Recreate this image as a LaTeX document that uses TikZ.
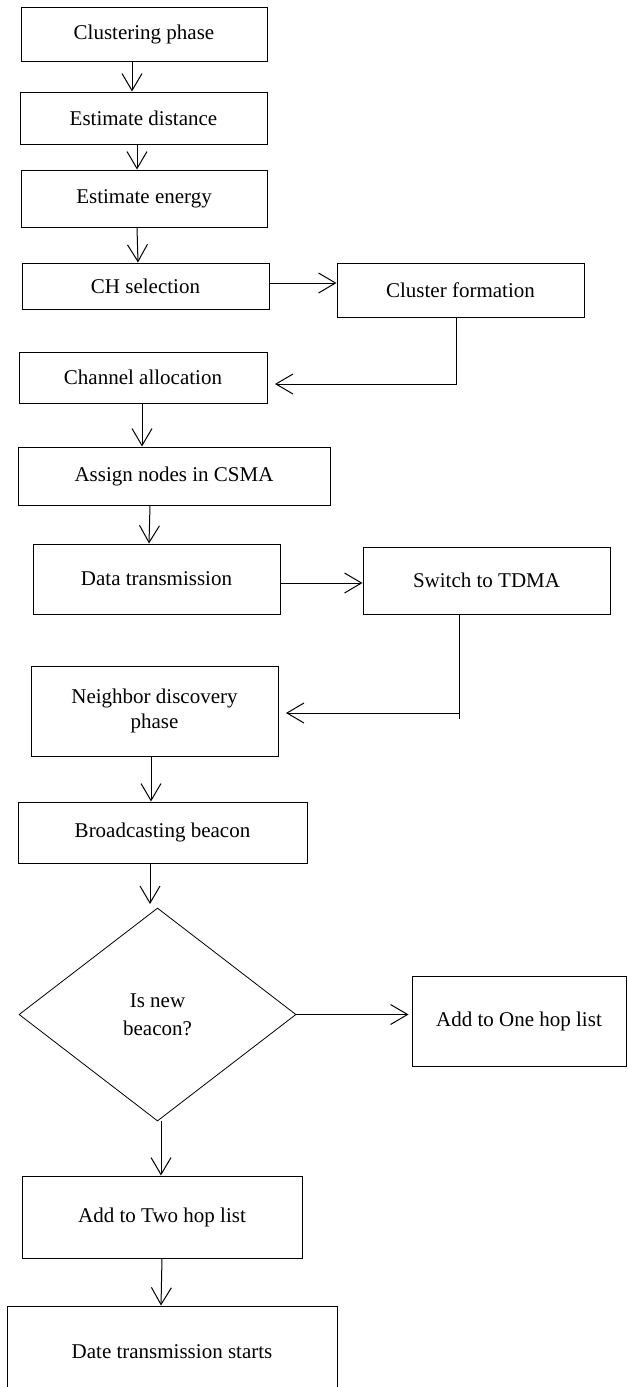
\documentclass[tikz,border=0pt]{standalone}
\usepackage{fontspec}
\setmainfont{Liberation Serif}
\usetikzlibrary{arrows.meta,shapes.geometric}
\tikzset{
  box/.style={draw, line width=1pt, inner sep=0pt, align=center, font=\fontsize{21}{25}\selectfont},
  dec/.style={draw, diamond, line width=0.8pt, inner sep=0pt, align=center, font=\fontsize{21}{28}\selectfont},
  arr/.style={line width=1pt, -{Straight Barb[length=17pt,width=20pt,line width=1pt]}},
  ln/.style={line width=1pt}
}
\begin{document}
\begin{tikzpicture}[x=1pt,y=-1pt]
\clip (0,0) rectangle (627,1387);
\fill[white] (0,0) rectangle (627,1387);
\node[box, minimum width=246pt, minimum height=54pt] (n1) at (144,34) {Clustering phase};
\node[box, minimum width=247pt, minimum height=52pt] (n2) at (143.5,118) {Estimate distance};
\node[box, minimum width=246pt, minimum height=57pt] (n3) at (144,198.5) {Estimate energy};
\node[box, minimum width=247pt, minimum height=46pt] (n4) at (145.5,286) {CH selection};
\node[box, minimum width=247pt, minimum height=54pt] (n5) at (460.5,290) {Cluster formation};
\node[box, minimum width=248pt, minimum height=51pt] (n6) at (143,377.5) {Channel allocation};
\node[box, minimum width=312pt, minimum height=58pt] (n7) at (174,476) {Assign nodes in CSMA};
\node[box, minimum width=247pt, minimum height=70pt] (n8) at (156.5,579) {Data transmission};
\node[box, minimum width=247pt, minimum height=67pt] (n9) at (486.5,580.5) {Switch to TDMA};
\node[box, minimum width=247pt, minimum height=90pt] (n10) at (154.5,711) {Neighbor discovery\\phase};
\node[box, minimum width=289pt, minimum height=61pt] (n11) at (162.5,832.5) {Broadcasting beacon};
\node[dec, minimum width=277pt, minimum height=213pt] (n12) at (157.5,1014.5) {Is new\\beacon?};
\node[box, minimum width=214pt, minimum height=90pt] (n13) at (519,1021) {Add to One hop list};
\node[box, minimum width=280pt, minimum height=82pt] (n14) at (162,1217) {Add to Two hop list};
\node[box, minimum width=330pt, minimum height=92pt] (n15) at (172,1352) {Date transmission starts};
% named free ends
\coordinate (e6) at (275,384);
\coordinate (k9) at (459,719);
\coordinate (h9) at (459,713);
\coordinate (e10) at (286,713);
% connectors
\draw[arr] (n1.south -| 132,0) -- (n2.north -| 132,0);
\draw[arr] (n2.south -| 137,0) -- (n3.north -| 137,0);
\draw[arr] (n3.south -| 137,0) -- (n4.north -| 138,0);
\draw[arr] (n4.east |- 0,283) -- (n5.west |- 0,283);
\draw[arr] (n5.south -| 456,0) |- (e6);
\draw[arr] (n6.south -| 142,0) -- (n7.north -| 142,0);
\draw[arr] (n7.south -| 150,0) -- (n8.north -| 149,0);
\draw[arr] (n8.east |- 0,583) -- (n9.west |- 0,583);
\draw[ln] (n9.south -| k9) -- (k9);
\draw[arr] (h9) -- (e10);
\draw[arr] (n10.south -| 151,0) -- (n11.north -| 151,0);
\draw[arr] (n11.south -| 150,0) -- (150,904);
\draw[arr] (n12.east) -- ([xshift=-3pt]n13.west |- n12.east);
\draw[arr] (n12.south -| 161,0) -- (n14.north -| 161,0);
\draw[arr] (n14.south -| 162,0) -- (n15.north -| 161,0);
\end{tikzpicture}
\end{document}
